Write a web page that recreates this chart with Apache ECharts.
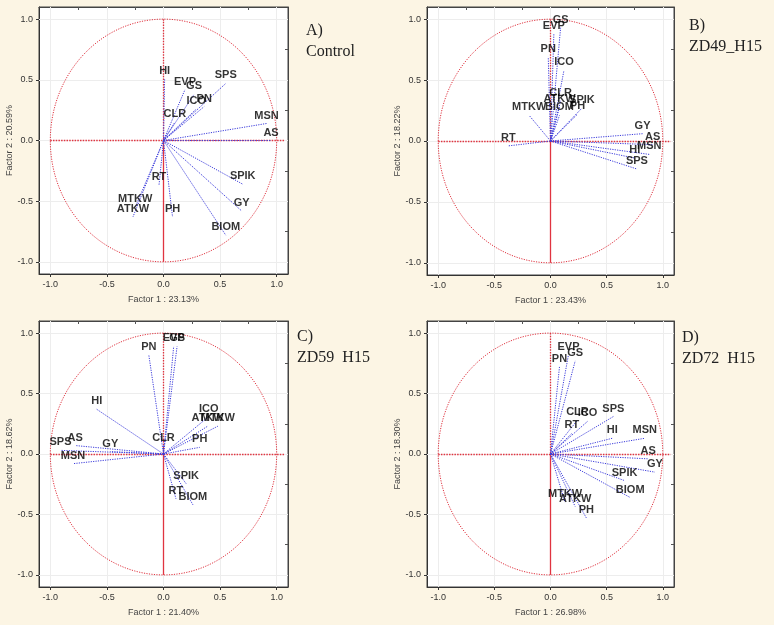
<!DOCTYPE html>
<html><head><meta charset="utf-8">
<script src="https://cdn.jsdelivr.net/npm/echarts@6/dist/echarts.min.js"></script>
<style>html,body{margin:0;padding:0;background:#fcf5e4;}#c{width:774px;height:625px;}</style>
</head><body><div id="c"></div>
<script>
// ---- data ----
const tickValues = [-1, -0.5, 0, 0.5, 1];
const minorTickValues = [-1, -0.75, -0.5, -0.25, 0, 0.25, 0.5, 0.75, 1];
const panelTitles = ['A)\nControl', 'B)\nZD49_H15', 'C)\nZD59  H15', 'D)\nZD72  H15'];
const factor1Names = ['Factor 1 : 23.13%', 'Factor 1 : 23.43%', 'Factor 1 : 21.40%', 'Factor 1 : 26.98%'];
const factor2Names = ['Factor 2 : 20.59%', 'Factor 2 : 18.22%', 'Factor 2 : 18.62%', 'Factor 2 : 18.30%'];

const varsA = ['HI','EVP','GS','SPS','ICO','PN','CLR','MSN','AS','SPIK','GY','BIOM','PH','RT','MTKW','ATKW'];
const f1A = [0.01,0.19,0.27,0.55,0.29,0.36,0.10,0.91,0.95,0.70,0.69,0.55,0.08,-0.04,-0.25,-0.27];
const f2A = [0.51,0.42,0.38,0.47,0.26,0.28,0.15,0.14,0.00,-0.36,-0.58,-0.78,-0.63,-0.37,-0.55,-0.63];

const varsB = ['GS','EVP','PN','ICO','CLR','ATKW','SPIK','PH','BIOM','MTKW','RT','GY','AS','MSN','HI','SPS'];
const f1B = [0.09,0.03,-0.02,0.12,0.09,0.08,0.28,0.24,0.08,-0.19,-0.375,0.82,0.91,0.88,0.75,0.77];
const f2B = [0.93,0.88,0.69,0.58,0.33,0.28,0.27,0.22,0.21,0.21,-0.04,0.06,-0.03,-0.11,-0.14,-0.23];

const varsC = ['EVP','GS','PN','HI','ICO','ATKW','MTKW','PH','CLR','SPS','AS','GY','MSN','SPIK','RT','BIOM'];
const f1C = [0.09,0.12,-0.13,-0.59,0.40,0.39,0.48,0.32,0.00,-0.91,-0.78,-0.47,-0.80,0.20,0.11,0.26];
const f2C = [0.89,0.89,0.82,0.37,0.31,0.23,0.23,0.055,0.07,0.03,0.07,0.02,-0.08,-0.245,-0.37,-0.42];

const varsD = ['EVP','GS','PN','CLR','ICO','SPS','RT','HI','MSN','AS','GY','SPIK','BIOM','MTKW','ATKW','PH'];
const f1D = [0.16,0.22,0.08,0.24,0.33,0.56,0.19,0.55,0.84,0.87,0.93,0.66,0.71,0.13,0.22,0.32];
const f2D = [0.82,0.77,0.72,0.28,0.27,0.31,0.17,0.13,0.13,-0.04,-0.15,-0.22,-0.36,-0.40,-0.435,-0.53];

const panels = [
  {vars: varsA, f1: f1A, f2: f2A},
  {vars: varsB, f1: f1B, f2: f2B},
  {vars: varsC, f1: f1C, f2: f2C},
  {vars: varsD, f1: f1D, f2: f2D}
];

// ---- layout ----
const grids = [
  {left: 39, top: 7, width: 249, height: 267},
  {left: 427, top: 7, width: 247, height: 268},
  {left: 39, top: 321, width: 249, height: 266},
  {left: 427, top: 321, width: 247, height: 266}
];
const titlePos = [[306, 20], [689, 15], [297, 326], [682, 327]];

const RED = '#e03440', BLUE = '#3c3cdc';
const labelFont = 'Liberation Sans Narrow, Arial Narrow, Liberation Sans, Arial, sans-serif';

const mainAxis = (i, pos, name, gap) => ({
  type: 'value', gridIndex: i, min: -1.1, max: 1.1, position: pos,
  name: name, nameLocation: 'middle', nameGap: gap,
  nameTextStyle: {fontFamily: 'Liberation Sans', fontSize: 9, color: '#444'},
  axisLine: {show: true, onZero: false, lineStyle: {color: '#333'}},
  axisTick: {show: true, customValues: tickValues, length: 3, lineStyle: {color: '#333'}},
  axisLabel: {customValues: tickValues, formatter: v => v.toFixed(1), fontFamily: 'Liberation Sans', fontSize: 9, color: '#333', margin: 6},
  splitLine: {show: false}
});
const sideAxis = (i, pos) => ({
  type: 'value', gridIndex: i, min: -1.1, max: 1.1, position: pos,
  axisLine: {show: true, onZero: false, lineStyle: {color: '#444'}},
  axisTick: {show: true, inside: true, customValues: minorTickValues, length: 3, lineStyle: {color: '#555'}},
  axisLabel: {show: false}, splitLine: {show: false}
});

const option = {
  backgroundColor: '#fcf5e4',
  animation: false,
  title: panelTitles.map((t, i) => ({
    text: t, left: titlePos[i][0], top: titlePos[i][1], padding: 0,
    textStyle: {fontFamily: 'Liberation Serif', fontSize: 16, fontWeight: 'normal', color: '#222', lineHeight: 21}
  })),
  grid: grids.map(g => Object.assign({show: true, backgroundColor: '#fff', borderColor: '#444', borderWidth: 1}, g)),
  xAxis: grids.map((g, i) => mainAxis(i, 'bottom', factor1Names[i], 21)).concat(grids.map((g, i) => sideAxis(i, 'top'))),
  yAxis: grids.map((g, i) => mainAxis(i, 'left', factor2Names[i], 23)).concat(grids.map((g, i) => sideAxis(i, 'right'))),
  series: []
};

panels.forEach((p, i) => {
  // faint grid lines
  option.series.push({
    type: 'line', xAxisIndex: i, yAxisIndex: i, data: [], z: 1,
    markLine: {
      silent: true, symbol: 'none', label: {show: false}, z: 1,
      lineStyle: {color: '#ededed', type: 'solid', width: 1},
      data: tickValues.map(v => ({xAxis: v})).concat(tickValues.map(v => ({yAxis: v})))
    }
  });
  // red reference axes through origin
  option.series.push({
    type: 'line', xAxisIndex: i, yAxisIndex: i, data: [], z: 3,
    markLine: {
      silent: true, symbol: 'none', label: {show: false}, z: 3,
      data: [
        [{coord: [-1, 0], lineStyle: {color: RED, type: [1.5, 1.2], width: 1.3}}, {coord: [1.07, 0]}],
        [{coord: [0, 1], lineStyle: {color: RED, type: [1.5, 1.2], width: 1.3}}, {coord: [0, 0]}],
        [{coord: [0, 0], lineStyle: {color: RED, type: 'solid', width: 1.3}}, {coord: [0, -1]}]
      ]
    }
  });
  // unit circle (ellipse in pixel space) drawn through the axis scales
  option.series.push({
    type: 'custom', xAxisIndex: i, yAxisIndex: i, data: [[0, 0]], silent: true, z: 2,
    renderItem: (params, api) => {
      const c = api.coord([0, 0]);
      const s = api.size([1, 1]);
      return {type: 'ellipse', shape: {cx: c[0], cy: c[1], rx: s[0], ry: s[1]},
        style: {fill: 'none', stroke: RED, lineWidth: 1, lineDash: [1.2, 1.3]}};
    }
  });
  // vectors
  option.series.push({
    type: 'lines', coordinateSystem: 'cartesian2d', xAxisIndex: i, yAxisIndex: i, z: 4, silent: true,
    lineStyle: {color: BLUE, width: 1, type: [1.2, 1.2], opacity: 1},
    data: p.vars.map((n, k) => ({coords: [[0, 0], [p.f1[k], p.f2[k]]]}))
  });
  // variable labels
  option.series.push({
    type: 'scatter', xAxisIndex: i, yAxisIndex: i, z: 5, silent: true,
    symbolSize: 1, itemStyle: {color: 'rgba(0,0,0,0)'},
    data: p.vars.map((n, k) => ({name: n, value: [p.f1[k], p.f2[k]]})),
    label: {show: true, position: 'top', distance: 2, formatter: d => d.name,
      fontFamily: labelFont, fontWeight: 'bold', fontSize: 11, color: '#000'},
    labelLayout: {hideOverlap: false}
  });
});

const chart = echarts.init(document.getElementById('c'), null, {renderer: 'canvas'});
chart.setOption(option);
</script>
</body></html>
